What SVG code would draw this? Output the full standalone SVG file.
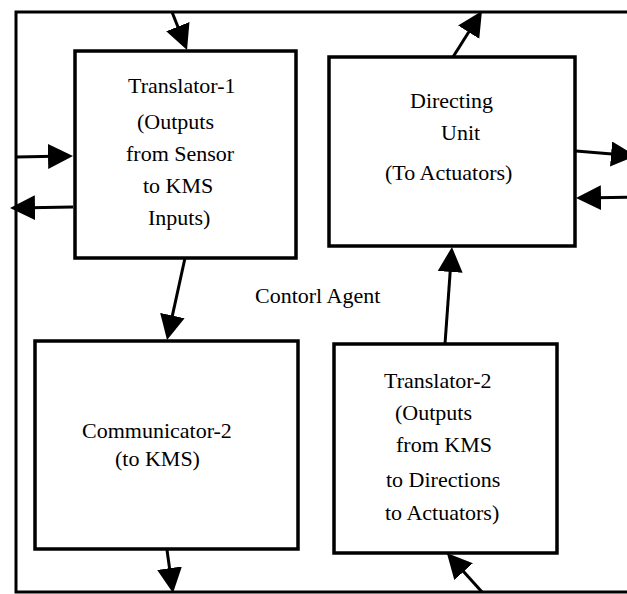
<svg xmlns="http://www.w3.org/2000/svg" width="627" height="594" viewBox="0 0 627 594">
  <style>
    .box { fill: #ffffff; stroke: #000000; stroke-width: 3.5; }
    .frame { fill: none; stroke: #000000; stroke-width: 3; }
    .conn { fill: none; stroke: #000000; stroke-width: 3; marker-end: url(#arrow); }
    text { font-family: "Liberation Serif", "Times New Roman", serif; font-size: 22px; fill: #000000; }
  </style>
  <defs>
    <marker id="arrow" markerUnits="userSpaceOnUse" markerWidth="26" markerHeight="26" refX="20" refY="12.5" orient="auto">
      <path d="M0,0 L25,12.5 L0,25 Z" fill="#000000"/>
    </marker>
  </defs>
  <rect width="627" height="594" fill="#ffffff"/>

  <g id="frame">
    <rect class="frame" x="16" y="12" width="660" height="580"/>
    <text x="255" y="303">Contorl Agent</text>
  </g>

  <g id="translator-1">
    <rect class="box" x="75" y="51" width="221" height="207"/>
    <text x="128" y="93">Translator-1</text>
    <text x="137" y="129">(Outputs</text>
    <text x="126" y="161">from Sensor</text>
    <text x="143" y="193">to KMS</text>
    <text x="148" y="225">Inputs)</text>
  </g>

  <g id="directing-unit">
    <rect class="box" x="329" y="57" width="246" height="189"/>
    <text x="410" y="108">Directing</text>
    <text x="441" y="140">Unit</text>
    <text x="385" y="180">(To Actuators)</text>
  </g>

  <g id="communicator-2">
    <rect class="box" x="35" y="341" width="263" height="208"/>
    <text x="82" y="438">Communicator-2</text>
    <text x="115" y="466">(to KMS)</text>
  </g>

  <g id="translator-2">
    <rect class="box" x="334" y="344" width="223" height="209"/>
    <text x="384" y="388">Translator-2</text>
    <text x="395" y="420">(Outputs</text>
    <text x="396" y="452">from KMS</text>
    <text x="386" y="487">to Directions</text>
    <text x="385" y="520">to Actuators)</text>
  </g>

  <g id="connectors">
    <path class="conn" d="M172,12 L185.2,45.3"/>
    <path class="conn" d="M16,157 L68,156"/>
    <path class="conn" d="M73,207 L15,208"/>
    <path class="conn" d="M185,258 L168.1,335.1"/>
    <path class="conn" d="M167,550 L172.3,588"/>
    <path class="conn" d="M445,344 L451.6,252"/>
    <path class="conn" d="M453,57 L479.3,15.2"/>
    <path class="conn" d="M576,151 L631,155.6"/>
    <path class="conn" d="M640,197 L581,198"/>
    <path class="conn" d="M482,592 L450.2,556.8"/>
  </g>
</svg>
